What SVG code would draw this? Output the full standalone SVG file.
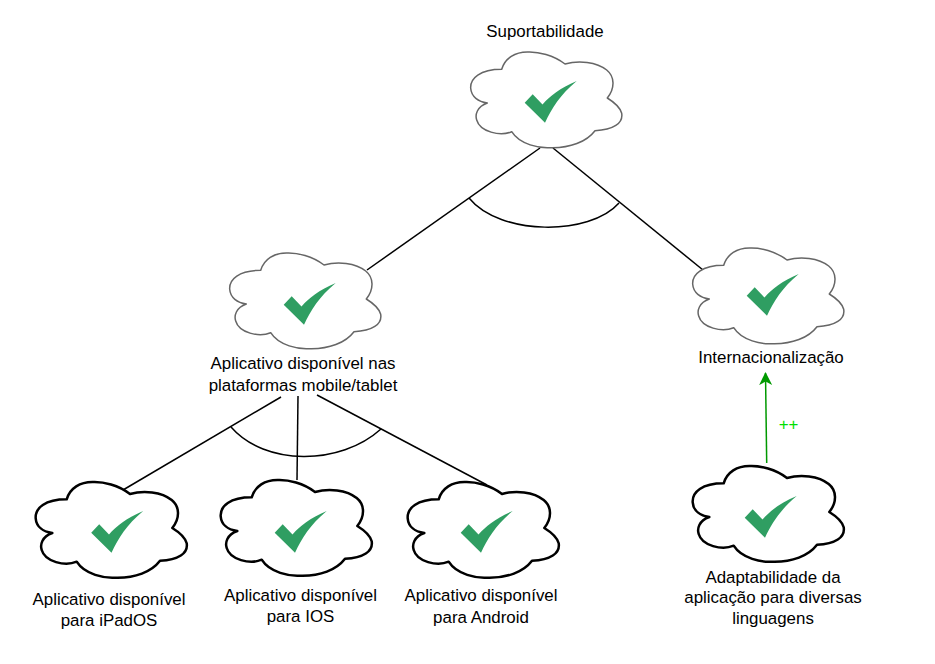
<svg xmlns="http://www.w3.org/2000/svg" xmlns:xlink="http://www.w3.org/1999/xlink" width="935" height="664" viewBox="0 0 935 664">
<style>
text{font-family:"Liberation Sans",Arial,sans-serif;font-size:16.9px;fill:#000;text-anchor:middle}
.c{fill:#fff;stroke-linejoin:round}
.thin{stroke:#666;stroke-width:1.5px}
.bold{stroke:#000;stroke-width:2.5px}
.l{fill:none;stroke:#000;stroke-width:1.5px}
.k{fill:#2f9e62}
</style>
<defs>
<path id="cloud" d="M51.7 39.3C30 39.3 20 48.3 20.7 58.3C21.3 66.7 28.3 71.7 37.3 73C26.7 76.7 25 85 26.7 90C30 101.7 50 106.7 61.7 101.7C70 115 90 118.3 100 117.7C120 118.3 136.7 111.7 145 100.7C163.3 100 173.3 93.3 171.7 83.3C170 76.7 163.3 71.7 157.3 68C165 58.3 165 46.7 156.7 40C146.7 31.7 128.3 30 115 34C103.3 25 88.3 21.7 78.3 22C65 21.7 55 28.3 51.7 39.3Z"/>
<path id="check" d="M74.7 72.7L82.7 64.3L92.5 74.500C100 66 110 58 126.7 51C110 65 102 78 95 92.7Z"/>
<marker id="a" markerUnits="userSpaceOnUse" markerWidth="14" markerHeight="14" refX="12" refY="6.500" orient="auto"><path d="M0 0L13 6.500L0 13L3.500 6.500Z" fill="#009900"/></marker>
</defs>
<g id="connectors">
<path class="l" d="M540 148L367 270"/>
<path class="l" d="M553 148L703 270"/>
<path class="l" d="M469 198C500 236 590 236 619 203"/>
<path class="l" d="M281 397L123 490"/>
<path class="l" d="M298 396L297 480"/>
<path class="l" d="M317 395L487 485"/>
<path class="l" d="M231 427C265 466 340 466 381 429"/>
<path d="M766.700 463L765.500 373" fill="none" stroke="#009900" stroke-width="1.500" marker-end="url(#a)"/>
<text x="788.500" y="430" style="fill:#00e000;font-size:16.900px">++</text>
</g>
<g id="suportabilidade" transform="translate(450 30)"><use href="#cloud" class="c thin"/><use href="#check" class="k"/><text x="95" y="7">Suportabilidade</text></g>
<g id="plataformas" transform="translate(209 231)"><use href="#cloud" class="c thin"/><use href="#check" class="k" y="1"/><text x="94" y="138">Aplicativo disponível nas</text><text x="94" y="160">plataformas mobile/tablet</text></g>
<g id="internacionalizacao" transform="translate(672 226)"><use href="#cloud" class="c thin"/><use href="#check" class="k" y="-3"/><text x="99" y="137">Internacionalização</text></g>
<g id="ipados" transform="translate(15 460)"><use href="#cloud" class="c bold"/><use href="#check" class="k" x="1.500"/><text x="94" y="145">Aplicativo disponível</text><text x="94" y="166">para iPadOS</text></g>
<g id="ios" transform="translate(200 458)"><use href="#cloud" class="c bold"/><use href="#check" class="k" y="2"/><text x="100.500" y="143">Aplicativo disponível</text><text x="100.500" y="164">para IOS</text></g>
<g id="android" transform="translate(387 460)"><use href="#cloud" class="c bold"/><use href="#check" class="k" x="-1"/><text x="94" y="141">Aplicativo disponível</text><text x="94" y="163">para Android</text></g>
<g id="adaptabilidade" transform="translate(672 444)"><use href="#cloud" class="c bold"/><use href="#check" class="k" x="-2" y="1"/><text x="101" y="139">Adaptabilidade da</text><text x="101" y="159">aplicação para diversas</text><text x="101" y="180">linguagens</text></g>
</svg>
